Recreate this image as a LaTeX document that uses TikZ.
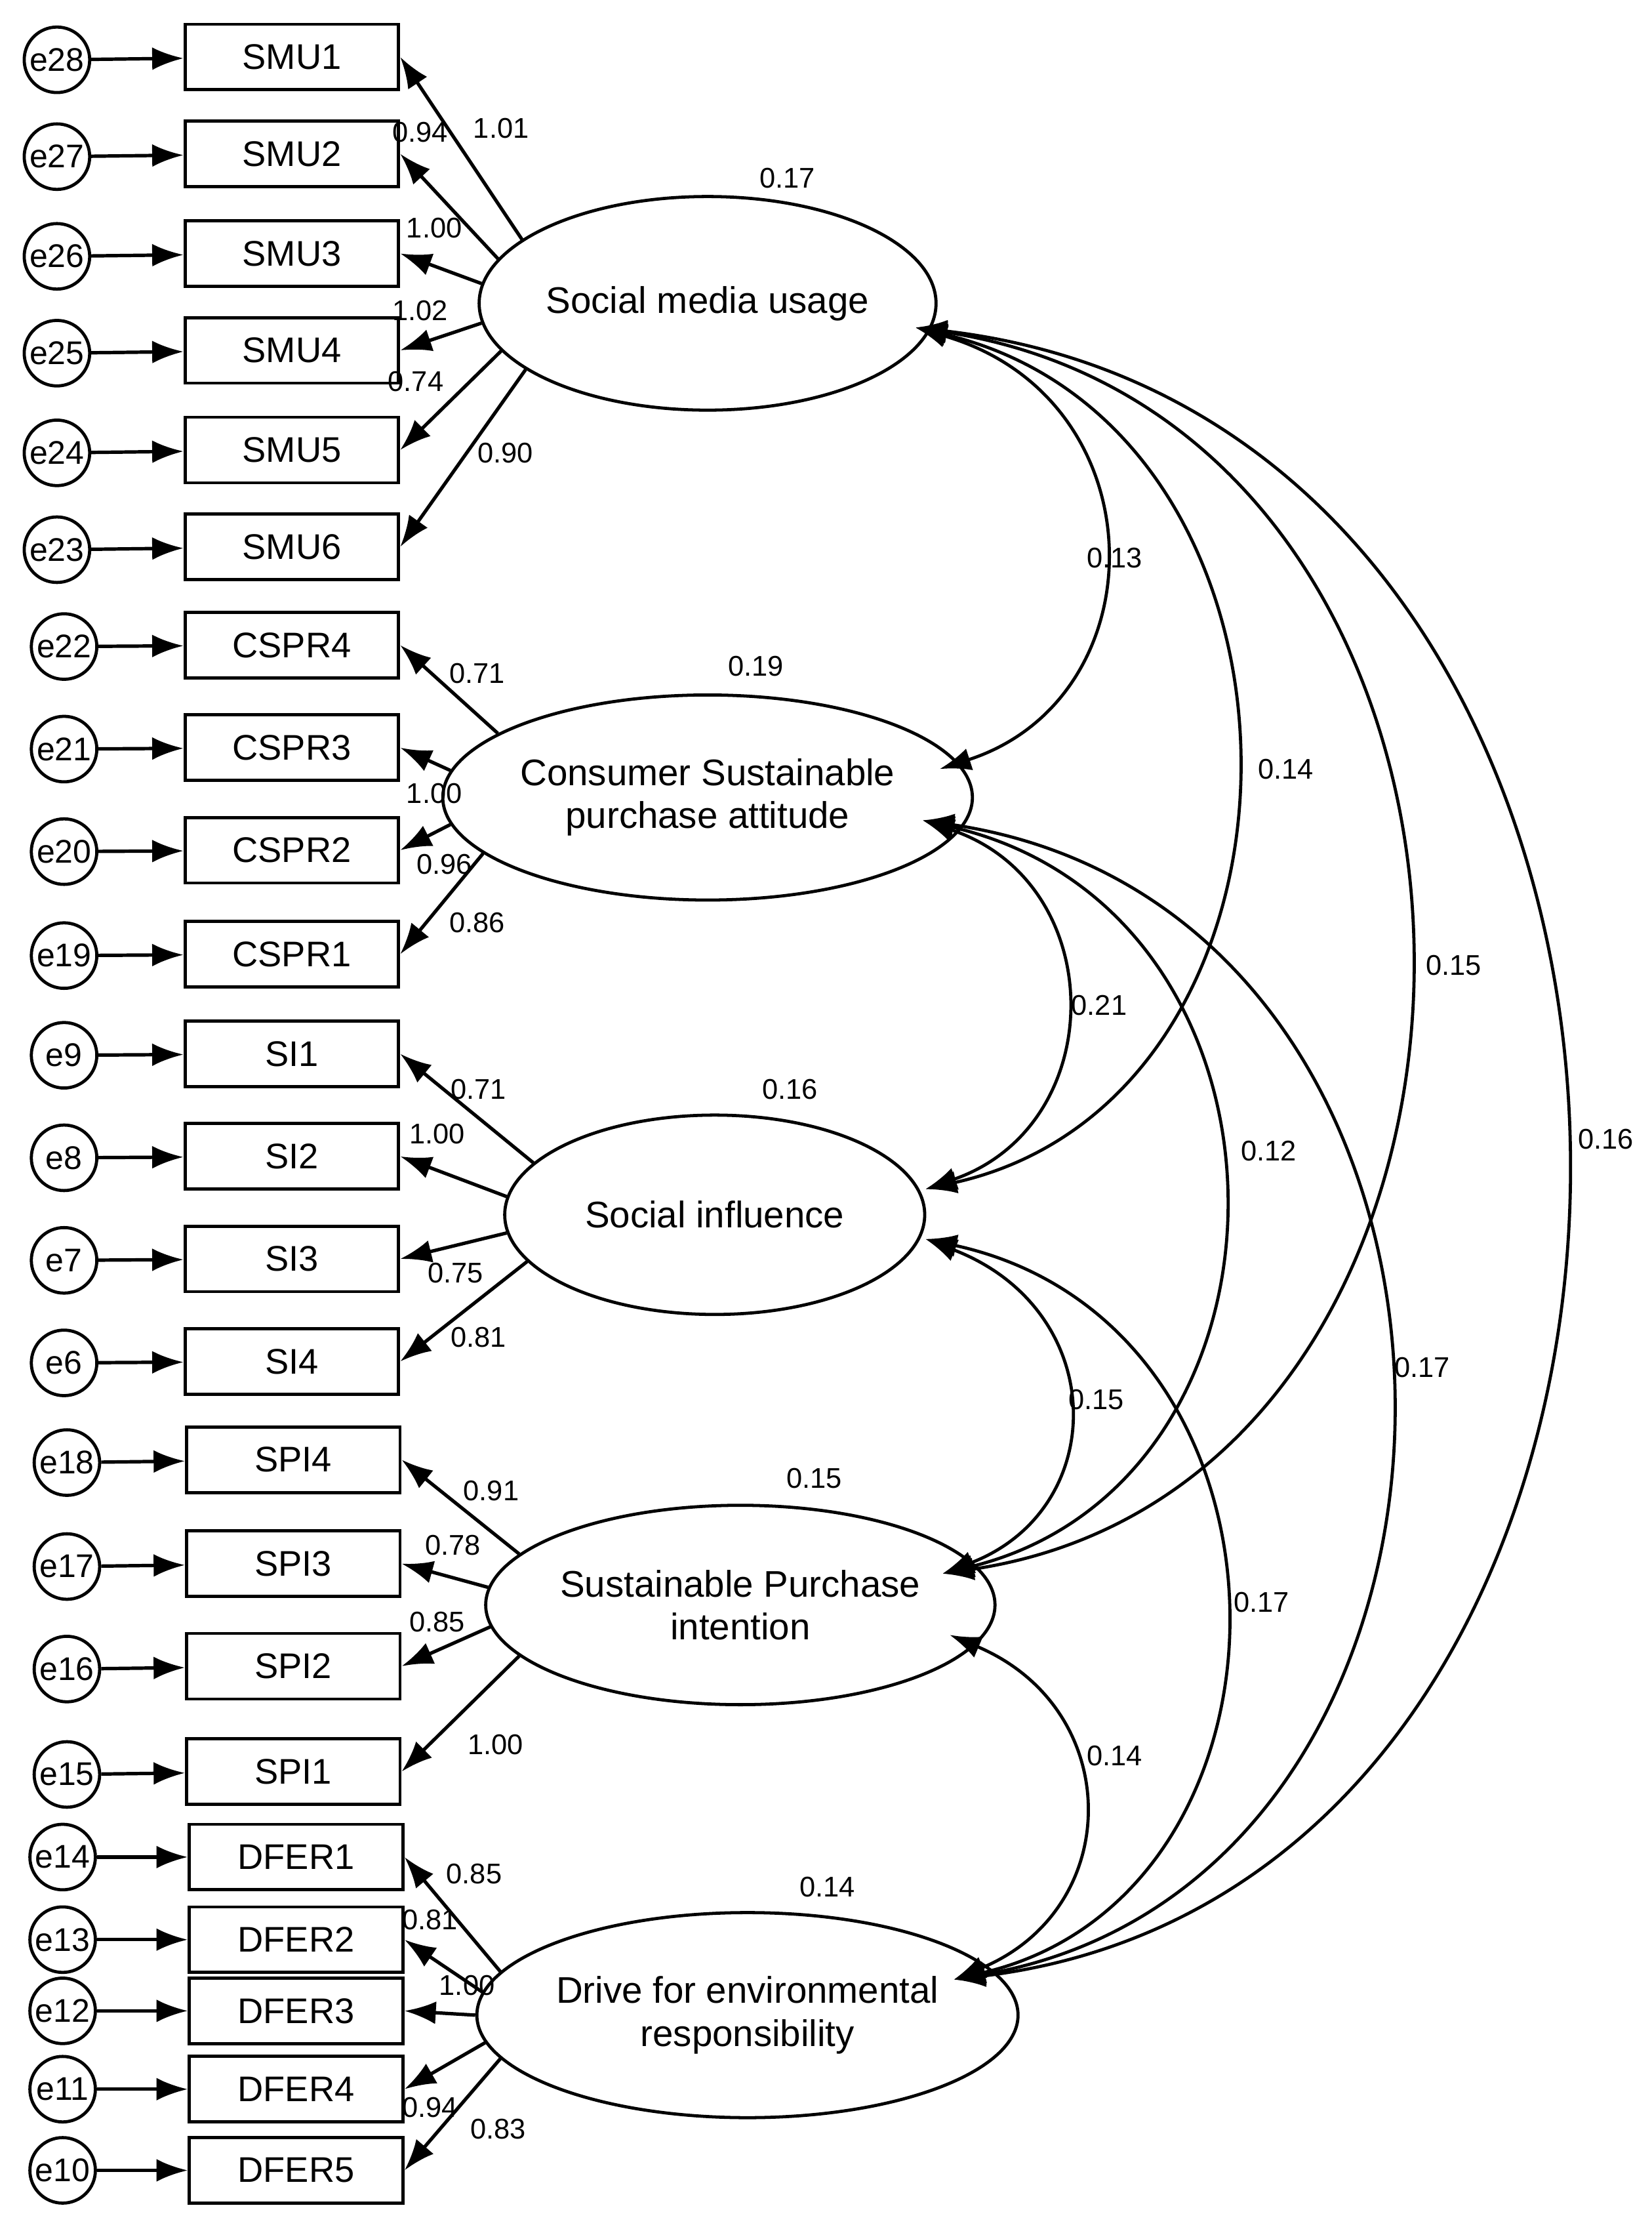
\documentclass[tikz,border=0pt]{standalone}
\usepackage{fontspec}
\setmainfont{Liberation Sans}
\usetikzlibrary{arrows.meta,shapes.geometric}
\begin{document}
\begin{tikzpicture}[x=1pt,y=-1pt,
 box/.style={draw,line width=2.2pt,minimum width=150pt,minimum height=46pt,inner sep=0pt,font=\fontsize{25}{28}\selectfont},
 err/.style={draw,circle,line width=2.2pt,minimum size=46pt,inner sep=0pt,font=\fontsize{23}{25}\selectfont},
 lat/.style={draw,ellipse,line width=2.2pt,align=center,inner sep=0pt,font=\fontsize{26}{30}\selectfont},
 lab/.style={font=\fontsize{20}{22}\selectfont,inner sep=0pt},
 arr/.style={line width=2.4pt,-{Latex[length=22pt,width=16pt]}},
 cov/.style={line width=2.2pt,{Latex[length=22pt,width=16pt]}-{Latex[length=22pt,width=16pt]}}]
\useasboundingbox (0,0) rectangle (1160,1568);
% latent
\node[lat,minimum width=294pt,minimum height=150pt] (smu) at (497,213) {Social media usage};
\node[lat,minimum width=297pt,minimum height=144pt] (cspa) at (497,560) {Consumer Sustainable\\purchase attitude};
\node[lat,minimum width=295pt,minimum height=140pt] (si) at (502,853) {Social influence};
\node[lat,minimum width=296pt,minimum height=140pt] (spi) at (520,1127) {Sustainable Purchase\\intention};
\node[lat,minimum width=296pt,minimum height=144pt] (dfer) at (525,1415) {Drive for environmental\\responsibility};
% indicators
\foreach \n/\t/\y/\e/\ex/\a in {
 s1/SMU1/40/e28/40/161, s2/SMU2/108/e27/40/168, s3/SMU3/178/e26/40/175, s4/SMU4/246/e25/40/185, s5/SMU5/316/e24/40/193, s6/SMU6/384/e23/40/200}{
 \node[box] (\n) at (205,\y) {\t};
 \node[err] (\e) at (\ex,\y+2) {\e};
 \draw[arr] (\e) -- (\n);
 \draw[arr] (smu.\a) -- (\n.east);}
\foreach \n/\t/\y/\e/\a in {c4/CSPR4/453/e22/163, c3/CSPR3/525/e21/174, c2/CSPR2/597/e20/186, c1/CSPR1/670/e19/194}{
 \node[box] (\n) at (205,\y) {\t};
 \node[err] (\e) at (45,\y+1) {\e};
 \draw[arr] (\e) -- (\n);
 \draw[arr] (cspa.\a) -- (\n.east);}
\foreach \n/\t/\y/\e/\a in {i1/SI1/740/e9/164, i2/SI2/812/e8/175, i3/SI3/884/e7/185, i4/SI4/956/e6/194}{
 \node[box] (\n) at (205,\y) {\t};
 \node[err] (\e) at (45,\y+1) {\e};
 \draw[arr] (\e) -- (\n);
 \draw[arr] (si.\a) -- (\n.east);}
\foreach \n/\t/\y/\e/\a in {p4/SPI4/1025/e18/167, p3/SPI3/1098/e17/176, p2/SPI2/1170/e16/185, p1/SPI1/1244/e15/193}{
 \node[box] (\n) at (206,\y) {\t};
 \node[err] (\e) at (47,\y+2) {\e};
 \draw[arr] (\e) -- (\n);
 \draw[arr] (spi.\a) -- (\n.east);}
\foreach \n/\t/\y/\e/\a in {d1/DFER1/1304/e14/170, d2/DFER2/1362/e13/175, d3/DFER3/1412/e12/180, d4/DFER4/1467/e11/186, d5/DFER5/1524/e10/190}{
 \node[box] (\n) at (208,\y) {\t};
 \node[err] (\e) at (44,\y) {\e};
 \draw[arr] (\e) -- (\n);
 \draw[arr] (dfer.\a) -- (\n.east);}
% loading labels
\foreach \x/\y/\t in {352/90/1.01,295/93/0.94,305/160/1.00,295/218/1.02,292/268/0.74,355/318/0.90,
 335/473/0.71,305/557/1.00,312/607/0.96,335/648/0.86,
 336/765/0.71,307/796/1.00,320/894/0.75,336/939/0.81,
 345/1047/0.91,318/1085/0.78,307/1139/0.85,348/1225/1.00,
 333/1316/0.85,302/1348/0.81,328/1394/1.00,302/1480/0.94,350/1495/0.83,
 553/125/0.17,531/468/0.19,555/765/0.16,572/1038/0.15,581/1325/0.14,
 783/392/0.13,903/540/0.14,1021/678/0.15,1128/800/0.16,772/706/0.21,891/808/0.12,999/960/0.17,770/983/0.15,886/1125/0.17,783/1233/0.14}
 \node[lab] at (\x,\y) {\t};
% covariances
\coordinate (A) at (643,230);
\coordinate (Bt) at (660,540); \coordinate (Bb) at (648,576);
\coordinate (Ct) at (650,835); \coordinate (Cb) at (650,870);
\coordinate (Dt) at (662,1105); \coordinate (Db) at (667,1148);
\coordinate (Et) at (670,1390);
\draw[cov] (A) .. controls (815,280) and (815,490) .. (Bt);
\draw[cov] (A) .. controls (940,300) and (940,770) .. (Ct);
\draw[cov] (A) .. controls (1100,300) and (1100,1040) .. (Dt);
\draw[cov] (A) .. controls (1245,300) and (1245,1320) .. (Et);
\draw[cov] (Bb) .. controls (780,620) and (780,790) .. (Ct);
\draw[cov] (Bb) .. controls (925,640) and (925,1040) .. (Dt);
\draw[cov] (Bb) .. controls (1080,640) and (1080,1320) .. (Et);
\draw[cov] (Cb) .. controls (780,920) and (780,1060) .. (Dt);
\draw[cov] (Cb) .. controls (925,930) and (925,1330) .. (Et);
\draw[cov] (Db) .. controls (790,1200) and (790,1340) .. (Et);
\end{tikzpicture}
\end{document}
